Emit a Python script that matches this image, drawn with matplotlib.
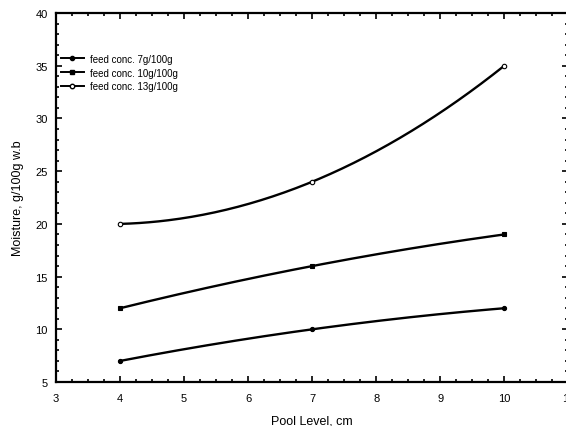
import numpy as np
import matplotlib
matplotlib.use("Agg")
import matplotlib.pyplot as plt
from matplotlib.ticker import MultipleLocator

plt.rcParams['font.family'] = ['Liberation Sans', 'DejaVu Sans']

pool_level = [4, 7, 10]
moist_7g = [7, 10, 12]
moist_10g = [12, 16, 19]
moist_13g = [20, 24, 35]
labels = ['feed conc. 7g/100g', 'feed conc. 10g/100g', 'feed conc. 13g/100g']

fig = plt.figure(figsize=(5.66, 4.27), dpi=100)
ax = fig.add_axes([0.099, 0.103, 0.905, 0.864])

series = [moist_7g, moist_10g, moist_13g]
markers = [dict(marker='o', mfc='black', ms=3.0),
           dict(marker='s', mfc='black', ms=2.6),
           dict(marker='o', mfc='white', ms=3.2)]

xs = np.linspace(pool_level[0], pool_level[-1], 200)
for y, mk, lab in zip(series, markers, labels):
    # smooth quadratic curve through the measured points
    coef = np.polyfit(pool_level, y, 2)
    ax.plot(xs, np.polyval(coef, xs), color='black', lw=1.7)
    ax.plot(pool_level, y, ls='none', color='black', mec='black', mew=0.8, **mk)
    ax.plot([], [], color='black', lw=1.4, label=lab, **mk)

ax.set_xlim(3, 11)
ax.set_ylim(5, 40)
ax.xaxis.set_major_locator(MultipleLocator(1))
ax.xaxis.set_minor_locator(MultipleLocator(0.25))
ax.yaxis.set_major_locator(MultipleLocator(5))
ax.yaxis.set_minor_locator(MultipleLocator(1))
ax.tick_params(which='both', direction='in', top=True, right=True,
               labelsize=8, width=1.2)
ax.tick_params(axis='x', pad=8)
ax.tick_params(axis='y', pad=6)
ax.tick_params(which='major', length=4)
ax.tick_params(which='minor', length=2)
for s in ax.spines.values():
    s.set_linewidth(1.6)

ax.set_xlabel('Pool Level, cm', fontsize=9, labelpad=8)
ax.set_ylabel('Moisture, g/100g w.b', fontsize=9, labelpad=8)

ax.legend(loc='upper left', bbox_to_anchor=(0.01, 0.89), frameon=False,
          fontsize=7, handlelength=2.3, handletextpad=0.7,
          labelspacing=0.4, borderaxespad=0.0, borderpad=0.0)

fig.savefig('out.png', dpi=100)
